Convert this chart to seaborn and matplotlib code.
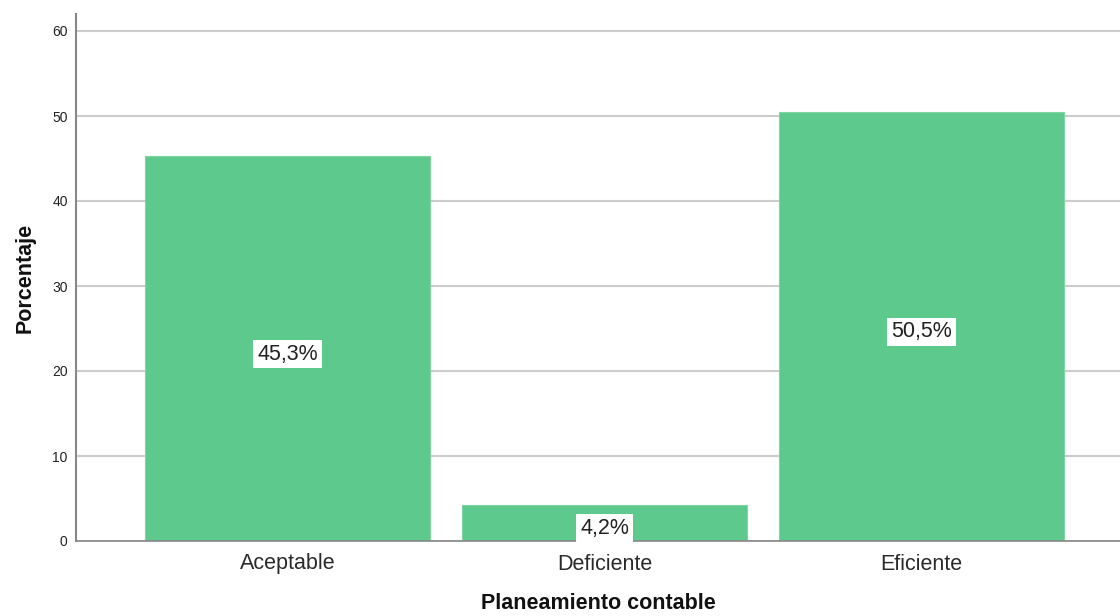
import matplotlib
matplotlib.use("Agg")
import matplotlib.pyplot as plt
import seaborn as sns
import pandas as pd

categories = ["Aceptable", "Deficiente", "Eficiente"]
percentages = [45.3, 4.2, 50.5]
bar_labels = ["45,3%", "4,2%", "50,5%"]
y_ticks = [0, 10, 20, 30, 40, 50, 60]

sns.set_theme(style="white")
plt.rcParams["font.family"] = ["Liberation Sans", "DejaVu Sans"]

df = pd.DataFrame({"cat": categories, "pct": percentages})

fig = plt.figure(figsize=(11.2, 6.16), dpi=100)
ax = fig.add_axes([76 / 1120, 75 / 616, 1 - 76 / 1120, (541 - 14) / 616])

sns.barplot(data=df, x="cat", y="pct", color="#5dc98c", saturation=1,
            width=0.9, ax=ax, zorder=2, edgecolor="#7fd6a4", linewidth=0.8)

ax.set_ylim(0, 62)
ax.set_xlim(-0.667, 2.626)
ax.set_yticks(y_ticks)
ax.set_yticklabels([str(t) for t in y_ticks], fontsize=10, color="#222222")
ax.tick_params(axis="x", labelsize=15.5, colors="#2a2a2a", length=0, pad=9)
ax.tick_params(axis="y", length=0, pad=6)
ax.yaxis.grid(True, color="#cccccc", linewidth=1.5, zorder=0)
ax.set_axisbelow(True)

for side in ["top", "right"]:
    ax.spines[side].set_visible(False)
ax.spines["left"].set_color("#888888")
ax.spines["left"].set_linewidth(1.5)
ax.spines["bottom"].set_color("#888888")
ax.spines["bottom"].set_linewidth(1.2)

ax.set_xlabel("Planeamiento contable", fontsize=15.5, fontweight="bold",
              color="#111111", labelpad=13)
ax.set_ylabel("Porcentaje", fontsize=15.5, fontweight="bold",
              color="#111111", labelpad=12)

ax.bar_label(ax.containers[0], labels=bar_labels, label_type="center",
             fontsize=15.5, color="#222222",
             bbox=dict(boxstyle="square,pad=0.18", facecolor="white",
                       edgecolor="none"))
for txt in ax.texts:
    x, y = txt.xyann
    txt.xyann = (x, y - 4)

fig.savefig("out.png", dpi=100)
